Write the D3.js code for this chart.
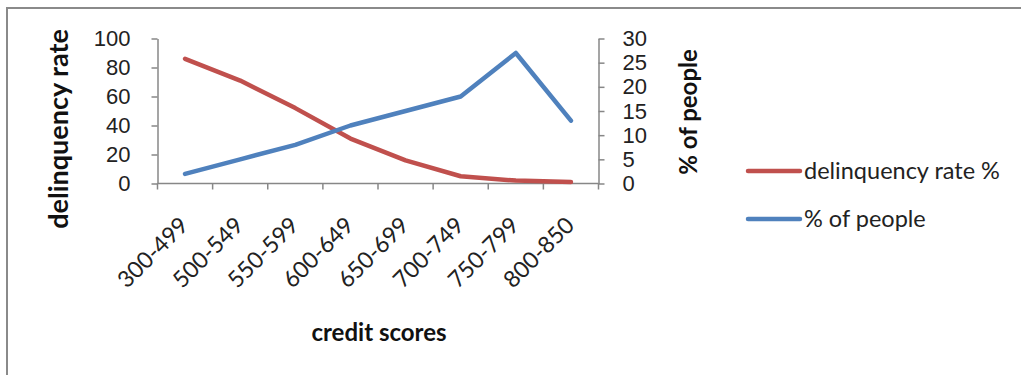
<!DOCTYPE html>
<html>
<head>
<meta charset="utf-8">
<script src="https://cdn.jsdelivr.net/npm/d3@7"></script>
<style>
  html, body { margin: 0; padding: 0; background: #fff; }
  svg { display: block; font-family: Lato, "Open Sans", sans-serif; }
</style>
</head>
<body>
<svg id="chart" width="1021" height="375"></svg>
<script>
// Credit score bands and the two series plotted against them
const categories = ["300-499", "500-549", "550-599", "600-649", "650-699", "700-749", "750-799", "800-850"];
const delinquencyRate = [86, 71, 52, 31, 16, 5, 2, 1];
const peoplePct = [2, 5, 8, 12, 15, 18, 27, 13];
const leftTicks = [0, 20, 40, 60, 80, 100];
const rightTicks = [0, 5, 10, 15, 20, 25, 30];
const seriesNames = ["delinquency rate %", "% of people"];
const seriesColors = ["#C0504D", "#4F81BD"];

const svg = d3.select("#chart");
const axisColor = "#878787";
const tickFont = "22px";

// frame
svg.append("path")
  .attr("d", "M7,375 V8 H1021")
  .attr("fill", "none")
  .attr("stroke", "#8a8a8a")
  .attr("stroke-width", 2);

const plot = { left: 157.5, right: 598.5, top: 38.5, bottom: 183.5 };

const x = d3.scaleBand().domain(categories).range([plot.left, plot.right]);
const yL = d3.scaleLinear().domain([0, 100]).range([plot.bottom, plot.top]);
const yR = d3.scaleLinear().domain([0, 30]).range([plot.bottom, plot.top]);

function styleAxis(g) {
  g.select(".domain").attr("stroke", axisColor).attr("stroke-width", 1.5);
  g.selectAll(".tick line").attr("stroke", axisColor).attr("stroke-width", 1.5);
  g.selectAll(".tick text").attr("fill", "#222").style("font-size", tickFont);
}

// left axis
svg.append("g")
  .attr("transform", `translate(${plot.left},0)`)
  .call(d3.axisLeft(yL).tickValues(leftTicks).tickSize(6).tickPadding(21).tickSizeOuter(0))
  .call(styleAxis);

// right axis
svg.append("g")
  .attr("transform", `translate(${plot.right},0)`)
  .call(d3.axisRight(yR).tickValues(rightTicks).tickSize(6).tickPadding(18).tickSizeOuter(0))
  .call(styleAxis);

// category axis: ticks on band boundaries
const bottom = svg.append("g").attr("transform", `translate(0,${plot.bottom})`);
bottom.append("line")
  .attr("x1", plot.left).attr("x2", plot.right)
  .attr("stroke", axisColor).attr("stroke-width", 1.5);
const bounds = categories.map(c => x(c)).concat([plot.right]);
bottom.selectAll("line.tk").data(bounds).join("line")
  .attr("class", "tk")
  .attr("x1", d => d).attr("x2", d => d)
  .attr("y1", 0).attr("y2", 6)
  .attr("stroke", axisColor).attr("stroke-width", 1.5);
bottom.selectAll("text").data(categories).join("text")
  .attr("transform", d => `translate(${x(d) + x.bandwidth() / 2 - 1},${37.5}) rotate(-45)`)
  .attr("text-anchor", "end")
  .attr("dy", "0.35em")
  .attr("fill", "#222")
  .style("font-size", "23px")
  .text(d => d);

// series lines
const cx = d => x(d) + x.bandwidth() / 2;
const lineL = d3.line().x((d, i) => cx(categories[i])).y(d => yL(d));
const lineR = d3.line().x((d, i) => cx(categories[i])).y(d => yR(d));

svg.append("path").datum(delinquencyRate)
  .attr("d", lineL)
  .attr("fill", "none").attr("stroke", seriesColors[0])
  .attr("stroke-width", 4.5).attr("stroke-linecap", "round").attr("stroke-linejoin", "round");

svg.append("path").datum(peoplePct)
  .attr("d", lineR)
  .attr("fill", "none").attr("stroke", seriesColors[1])
  .attr("stroke-width", 4.5).attr("stroke-linecap", "round").attr("stroke-linejoin", "round");

// axis titles
svg.append("text")
  .attr("transform", `translate(68,129) rotate(-90)`)
  .attr("text-anchor", "middle")
  .style("font-size", "27px").style("font-weight", "bold")
  .attr("fill", "#111")
  .text("delinquency rate");

svg.append("text")
  .attr("transform", `translate(697,112) rotate(-90)`)
  .attr("text-anchor", "middle")
  .style("font-size", "24px").style("font-weight", "bold")
  .attr("fill", "#111")
  .text("% of people");

svg.append("text")
  .attr("x", 379).attr("y", 341)
  .attr("text-anchor", "middle")
  .style("font-size", "24px").style("font-weight", "bold")
  .attr("fill", "#111")
  .text("credit scores");

// legend
const legend = svg.append("g").selectAll("g").data(seriesNames).join("g")
  .attr("transform", (d, i) => `translate(748,${171 + i * 48})`);
legend.append("line")
  .attr("x1", 0).attr("x2", 52)
  .attr("stroke", (d, i) => seriesColors[i])
  .attr("stroke-width", 4.5).attr("stroke-linecap", "round");
legend.append("text")
  .attr("x", 56).attr("dy", "0.35em")
  .style("font-size", "23.5px").attr("fill", "#222")
  .text(d => d);
</script>
</body>
</html>
